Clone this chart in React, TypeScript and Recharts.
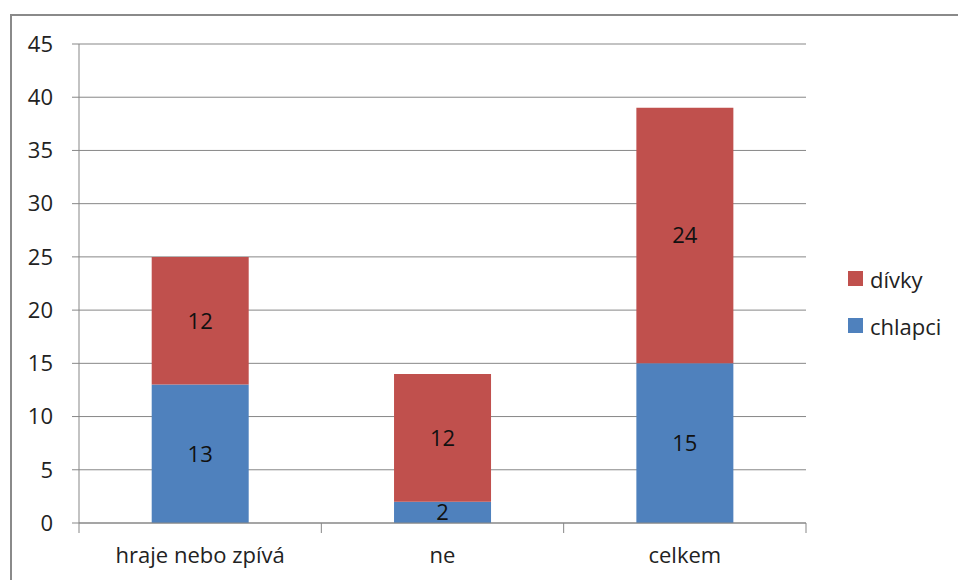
import React from "react";
import { BarChart, Bar, XAxis, YAxis, CartesianGrid, Legend, LabelList } from "recharts";

const categories = ["hraje nebo zpívá", "ne", "celkem"];
const chlapci = [13, 2, 15];
const divky = [12, 12, 24];
const yTicks = [0, 5, 10, 15, 20, 25, 30, 35, 40, 45];

const data = categories.map((name, i) => ({ name, chlapci: chlapci[i], divky: divky[i] }));

const FONT = "'Open Sans', sans-serif";
const GRID = "#878787";
const BLUE = "#4F81BD";
const RED = "#C0504D";

const XTick = (props: any) => {
  const { x, y, payload, index, visibleTicksCount, width } = props;
  const n = visibleTicksCount || 3;
  const half = payload && typeof payload.offset === "number" && payload.offset > 0
    ? payload.offset
    : width / n / 2;
  const last = index === n - 1;
  return (
    <g>
      <line x1={x - half} x2={x - half} y1={y} y2={y + 10} stroke={GRID} strokeWidth={1} />
      {last && <line x1={x + half} x2={x + half} y1={y} y2={y + 10} stroke={GRID} strokeWidth={1} />}
      <text x={x} y={y + 40} textAnchor="middle" fontFamily={FONT} fontSize={22} fill="#222">
        {payload.value}
      </text>
    </g>
  );
};

const renderLegend = () => {
  const items = [
    { label: "dívky", color: RED },
    { label: "chlapci", color: BLUE },
  ];
  return (
    <div style={{ fontFamily: FONT, fontSize: 22, color: "#222" }}>
      {items.map((it) => (
        <div key={it.label} style={{ display: "flex", alignItems: "center", height: 47 }}>
          <span style={{ display: "inline-block", width: 15, height: 15, background: it.color, marginRight: 7 }} />
          <span>{it.label}</span>
        </div>
      ))}
    </div>
  );
};

export default function App() {
  return (
    <div style={{ position: "absolute", left: 0, top: 0, width: 958, height: 580, overflow: "hidden", background: "#fff" }}>
      <div style={{ position: "absolute", left: 10, top: 14, width: 1200, height: 1200, border: "2px solid #8a8a8a", boxSizing: "border-box" }} />
      <BarChart
        width={958}
        height={580}
        data={data}
        margin={{ top: 44, right: 152, bottom: 17, left: 0 }}
        barCategoryGap="30%"
        style={{ position: "absolute", left: 0, top: 0 }}
      >
        <CartesianGrid vertical={false} stroke={GRID} strokeWidth={1} />
        <XAxis
          dataKey="name"
          height={40}
          tickSize={0}
          tickMargin={0}
          tickLine={false}
          axisLine={{ stroke: GRID }}
          tick={(p: any) => <XTick {...p} />}
          interval={0}
        />
        <YAxis
          width={79}
          domain={[0, 45]}
          ticks={yTicks}
          tickSize={7}
          tickMargin={19}
          axisLine={{ stroke: GRID }}
          tickLine={{ stroke: GRID }}
          tick={{ fontFamily: FONT, fontSize: 22, fill: "#222" }}
          interval={0}
        />
        <Legend
          layout="horizontal"
          align="center"
          verticalAlign="middle"
          content={renderLegend}
          wrapperStyle={{ position: "absolute", left: 848, top: 255, width: 110 }}
        />
        <Bar dataKey="chlapci" stackId="a" fill={BLUE} isAnimationActive={false}>
          <LabelList dataKey="chlapci" position="center" style={{ fontFamily: FONT, fontSize: 22, fill: "#111" }} />
        </Bar>
        <Bar dataKey="divky" stackId="a" fill={RED} isAnimationActive={false}>
          <LabelList dataKey="divky" position="center" style={{ fontFamily: FONT, fontSize: 22, fill: "#111" }} />
        </Bar>
      </BarChart>
    </div>
  );
}
